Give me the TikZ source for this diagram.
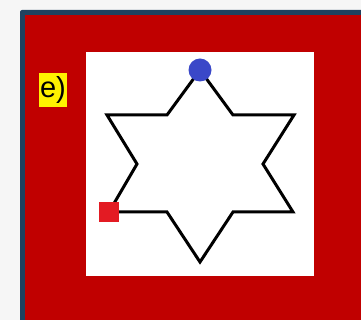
\documentclass[tikz,border=0pt]{standalone}
\usepackage{fontspec}
\setmainfont{Liberation Sans}
\definecolor{bgc}{HTML}{F6F6F6}
\definecolor{framec}{HTML}{1F4260}
\definecolor{redc}{HTML}{C00000}
\definecolor{dotc}{HTML}{3A48C8}
\definecolor{sqc}{HTML}{E31B23}
\begin{document}
\begin{tikzpicture}[x=1pt,y=-1pt,
  starline/.style={line width=3pt,line join=miter,black},
  panel/.style={fill=white,draw=none}]
\useasboundingbox (0,0) rectangle (361,320);
\fill[bgc] (0,0) rectangle (361,320);
\fill[framec,rounded corners=2pt] (20,10) rectangle (370,330);
\fill[redc] (25,15) rectangle (361,320);
\node[panel,minimum width=228pt,minimum height=224pt,inner sep=0pt,anchor=north west] (pan) at (86,52) {};
\node[fill=yellow,inner sep=0pt,minimum width=28pt,minimum height=34pt,font=\fontsize{29}{31}\selectfont] (lab) at (53,90) {e)};
\coordinate (t) at (200,70);
\coordinate (a1) at (233,115);
\coordinate (a2) at (294,115);
\coordinate (a3) at (263,164);
\coordinate (a4) at (293,212);
\coordinate (a5) at (233,212);
\coordinate (b) at (200,262);
\coordinate (a6) at (167,212);
\coordinate (s) at (109,212);
\coordinate (a7) at (137,164);
\coordinate (a8) at (107,115);
\coordinate (a9) at (167,115);
\draw[starline] (t) -- (a1) -- (a2) -- (a3) -- (a4) -- (a5) -- (b) -- (a6) -- (s) -- (a7) -- (a8) -- (a9) -- cycle;
\node[circle,fill=dotc,minimum size=23pt,inner sep=0pt] (dot) at (t) {};
\node[fill=sqc,minimum size=20pt,inner sep=0pt] (sq) at (s) {};
\end{tikzpicture}
\end{document}
